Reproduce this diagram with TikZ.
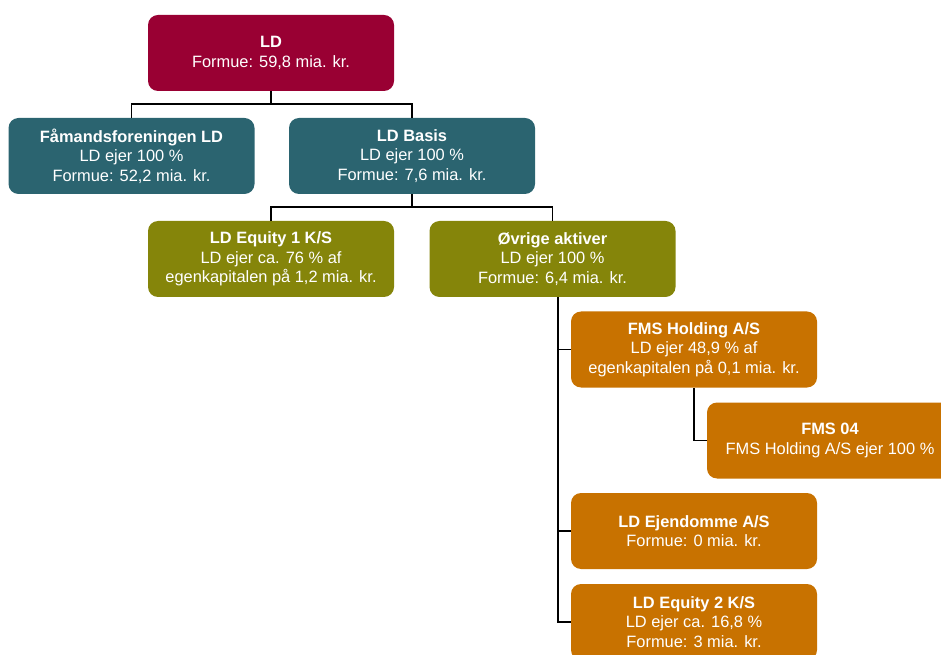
\documentclass[tikz,border=0pt]{standalone}
\usepackage{fontspec}
\setmainfont{Liberation Sans}
\usetikzlibrary{calc}
\definecolor{ldred}{HTML}{990033}
\definecolor{ldteal}{HTML}{2B6470}
\definecolor{ldolive}{HTML}{85850A}
\definecolor{ldorange}{HTML}{C87200}

\begin{document}
\begin{tikzpicture}[x=0.75pt, y=-0.75pt,
    box/.style={rounded corners=7.5pt, minimum width=184.5pt, minimum height=57pt, inner sep=0pt,
        align=center, text=white, font=\fontsize{12.3}{14.6}\selectfont},
    link/.style={line width=1.4pt}]
                \useasboundingbox (0,0) rectangle (941,655);
                % level 1
                \node[box, fill=ldred] (ld) at (271,53) {\textbf{LD}\\Formue: 59,8 mia. kr.};
                % level 2
                \node[box, fill=ldteal] (fam) at (131.5,156) {\textbf{Fåmandsforeningen LD}\\LD ejer 100 \%\\Formue: 52,2 mia. kr.};
                \node[box, fill=ldteal] (basis) at (412,156) {\textbf{LD Basis}\\LD ejer 100 \%\\Formue: 7,6 mia. kr.};
                % level 3
                \node[box, fill=ldolive] (eqone) at (271,259) {\textbf{LD Equity 1 K/S}\\LD ejer ca. 76 \% af\\egenkapitalen på 1,2 mia. kr.};
                \node[box, fill=ldolive] (other) at (552.5,259) {\textbf{Øvrige aktiver}\\LD ejer 100 \%\\Formue: 6,4 mia. kr.};
                % level 4
                \node[box, fill=ldorange] (fmsh) at (694,349.5) {\textbf{FMS Holding A/S}\\LD ejer 48,9 \% af\\egenkapitalen på 0,1 mia. kr.};
                \node[box, fill=ldorange] (fms) at (830,440.5) {\textbf{FMS 04}\\FMS Holding A/S ejer 100 \%};
                \node[box, fill=ldorange] (ejd) at (694,531) {\textbf{LD Ejendomme A/S}\\Formue: 0 mia. kr.};
                \node[box, fill=ldorange] (eqtwo) at (694,622) {\textbf{LD Equity 2 K/S}\\LD ejer ca. 16,8 \%\\Formue: 3 mia. kr.};
                % connectors
                \coordinate (j1) at ($(ld.south)+(0,13)$);
                \coordinate (j2) at ($(basis.south)+(0,13)$);
                \coordinate (t1) at ($(other.south)+(5.5,0)$);
                \draw[link] (ld.south) -- (j1);
                \draw[link] (fam.north) |- (j1) -| (basis.north);
                \draw[link] (basis.south) -- (j2);
                \draw[link] (eqone.north) |- (j2) -| (other.north);
                \draw[link] (t1) |- (fmsh.west);
                \draw[link] (t1) |- (ejd.west);
                \draw[link] (t1) |- (eqtwo.west);
                \draw[link] (fmsh.south) |- (fms.west);
\end{tikzpicture}
\end{document}
